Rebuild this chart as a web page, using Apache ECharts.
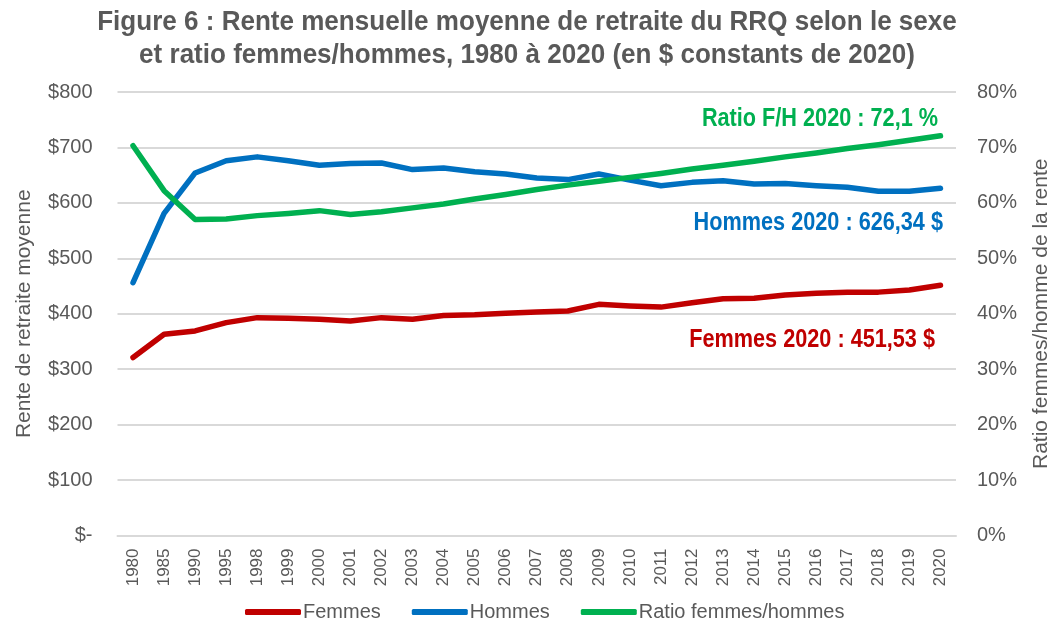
<!DOCTYPE html>
<html>
<head>
<meta charset="utf-8">
<script src="https://cdn.jsdelivr.net/npm/echarts@6/dist/echarts.min.js"></script>
<style>
  html, body { margin: 0; padding: 0; background: #fff; }
  #chart { width: 1053px; height: 630px; }
</style>
</head>
<body>
<div id="chart"></div>
<script>
const years = ['1980', '1985', '1990', '1995', '1998', '1999', '2000', '2001', '2002', '2003',
  '2004', '2005', '2006', '2007', '2008', '2009', '2010', '2011', '2012', '2013',
  '2014', '2015', '2016', '2017', '2018', '2019', '2020']

// rente mensuelle moyenne ($ constants de 2020)
const femmes = [321, 363, 369, 384, 393, 392, 390, 387, 393, 390,
  397, 398, 401, 403, 405, 417, 414, 412, 420, 427,
  428, 434, 437, 439, 439, 443, 451.53]
const hommes = [456, 581, 654, 676, 683, 676, 668, 671, 672, 660,
  663, 656, 652, 645, 642, 652, 641, 631, 637, 640,
  634, 635, 631, 628, 621, 621, 626.34]
// ratio femmes/hommes (%)
const ratio = [70.3, 62.2, 57.0, 57.1, 57.7, 58.1, 58.6, 57.9, 58.4, 59.1,
  59.8, 60.7, 61.5, 62.4, 63.2, 63.9, 64.6, 65.3, 66.1, 66.8,
  67.5, 68.3, 69.0, 69.8, 70.5, 71.3, 72.1]

const moneyTicks = ['$-', '$100', '$200', '$300', '$400', '$500', '$600', '$700', '$800']

const titleLines = [
  'Figure 6 : Rente mensuelle moyenne de retraite du RRQ selon le sexe',
  'et ratio femmes/hommes, 1980 à 2020 (en $ constants de 2020)'
]

const FONT = '"Liberation Sans", Arial, sans-serif'
const GREY = '#595959'
const RED = '#C00000'
const BLUE = '#0070C0'
const GREEN = '#00B050'

// texte gras "étroit" (imitation Arial Narrow)
function narrowText(text, x, y, color, size, sx, align) {
  return {
    type: 'text',
    x: x,
    y: y,
    scaleX: sx,
    style: {
      text: text,
      fill: color,
      font: 'bold ' + size + 'px ' + FONT,
      textAlign: align,
      textVerticalAlign: 'middle'
    }
  }
}

const chart = echarts.init(document.getElementById('chart'))
chart.setOption({
  animation: false,
  textStyle: { fontFamily: FONT },
  grid: { left: 117.5, right: 97, top: 92, bottom: 94.5, outerBoundsMode: 'none', containLabel: false },
  legend: {
    bottom: 3,
    left: 240,
    itemWidth: 56,
    itemHeight: 6,
    itemGap: 31,
    icon: 'roundRect',
    textStyle: { fontFamily: FONT, fontSize: 20, color: GREY, padding: [0, 0, 0, -3] },
    data: ['Femmes', 'Hommes', 'Ratio femmes/hommes']
  },
  xAxis: {
    type: 'category',
    data: years,
    boundaryGap: true,
    axisLine: { lineStyle: { color: '#D9D9D9', width: 2 } },
    axisTick: { show: false },
    axisLabel: { rotate: 90, color: GREY, fontSize: 17, fontFamily: FONT, margin: 13 }
  },
  yAxis: [
    {
      type: 'value',
      min: 0,
      max: 800,
      interval: 100,
      name: 'Rente de retraite moyenne',
      nameLocation: 'middle',
      nameGap: 83,
      nameTextStyle: { color: GREY, fontSize: 21, fontFamily: FONT },
      axisLabel: {
        color: GREY,
        fontSize: 20,
        fontFamily: FONT,
        margin: 25,
        formatter: v => moneyTicks[v / 100]
      },
      axisLine: { show: false },
      axisTick: { show: false },
      splitLine: { lineStyle: { color: '#D9D9D9', width: 2 } }
    },
    {
      type: 'value',
      min: 0,
      max: 80,
      interval: 10,
      name: 'Ratio femmes/homme de la rente',
      nameLocation: 'middle',
      nameGap: 75,
      nameRotate: 90,
      nameTextStyle: { color: GREY, fontSize: 21, fontFamily: FONT },
      axisLabel: {
        color: GREY,
        fontSize: 20,
        fontFamily: FONT,
        margin: 21,
        formatter: '{value}%'
      },
      axisLine: { show: false },
      axisTick: { show: false },
      splitLine: { show: false }
    }
  ],
  series: [
    {
      name: 'Femmes',
      type: 'line',
      data: femmes,
      yAxisIndex: 0,
      symbol: 'none',
      color: RED,
      lineStyle: { width: 5.5, color: RED, cap: 'round', join: 'round' }
    },
    {
      name: 'Hommes',
      type: 'line',
      data: hommes,
      yAxisIndex: 0,
      symbol: 'none',
      color: BLUE,
      lineStyle: { width: 5.5, color: BLUE, cap: 'round', join: 'round' }
    },
    {
      name: 'Ratio femmes/hommes',
      type: 'line',
      data: ratio,
      yAxisIndex: 1,
      symbol: 'none',
      color: GREEN,
      lineStyle: { width: 5.5, color: GREEN, cap: 'round', join: 'round' }
    }
  ],
  graphic: [
    narrowText(titleLines[0], 527, 22, GREY, 28, 0.93, 'center'),
    narrowText(titleLines[1], 527, 55, GREY, 28, 0.93, 'center'),
    narrowText('Ratio F/H 2020 : 72,1 %', 938, 119, GREEN, 25, 0.867, 'right'),
    narrowText('Hommes 2020 : 626,34 $', 943, 223, BLUE, 25, 0.867, 'right'),
    narrowText('Femmes 2020 : 451,53 $', 935, 340, RED, 25, 0.867, 'right')
  ]
})
</script>
</body>
</html>
